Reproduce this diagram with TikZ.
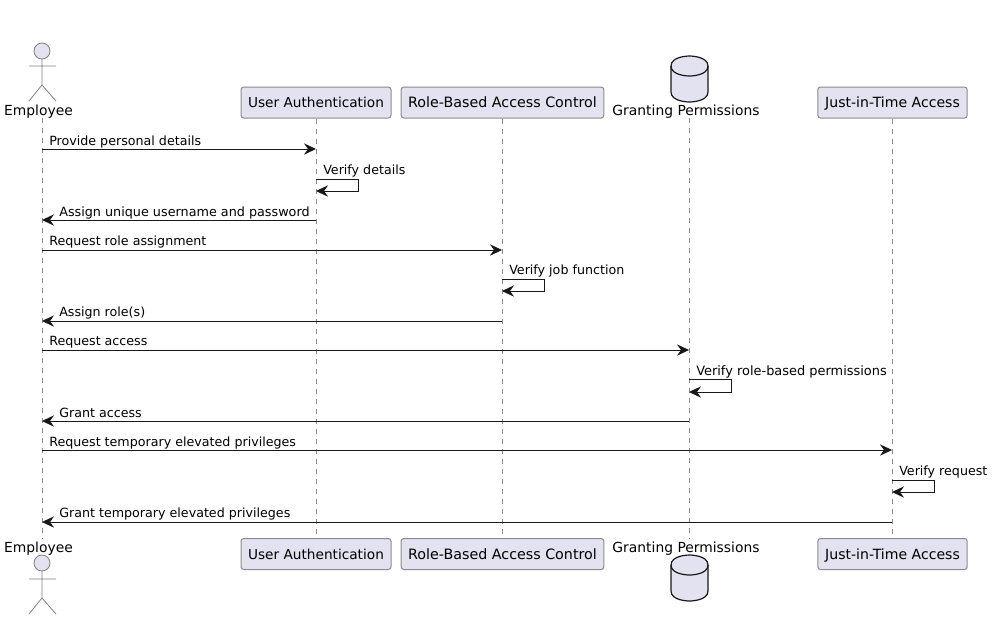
\documentclass[tikz,border=0pt]{standalone}
\usepackage{fontspec}
\setmainfont{DejaVu Sans}
\usetikzlibrary{arrows.meta}

\definecolor{partfill}{HTML}{E2E2F0}
\definecolor{partline}{HTML}{181818}

\tikzset{
  partbox/.style={draw=partline!50!white, line width=0.75pt, fill=partfill, rounded corners=2pt, minimum height=23.25pt, inner sep=0pt, text height=10.3pt, text depth=2.4pt, font=\fontsize{10.25}{12}\selectfont},
  partlabel/.style={inner sep=0pt, text height=10.3pt, text depth=2.4pt, font=\fontsize{10.4}{12}\selectfont},
  lifeline/.style={draw=partline!50!white, line width=0.6pt, dash pattern=on 3.75pt off 3.75pt},
  figure/.style={draw=partline!55!white, line width=0.6pt},
  dbshape/.style={draw=partline, line width=0.9pt},
  msg/.style={draw=partline, line width=0.75pt, -{Stealth[length=9pt,width=8.5pt,inset=3pt]}},
  msgtext/.style={anchor=base west, inner sep=0pt, text=black, font=\fontsize{9.5}{12}\selectfont},
}

\begin{document}
\begin{tikzpicture}[x=0.75pt,y=-0.75pt]

\useasboundingbox (0,0) rectangle (994,619);

% top row
\node[partlabel] (empT) at (38.5,110) {Employee};
\node[partbox, minimum width=112.5pt] (authT) at (316,102.5) {User Authentication};
\node[partbox, minimum width=152pt, font=\fontsize{10.7}{12}\selectfont] (rbacT) at (502.5,102.5) {Role-Based Access Control};
\node[partlabel] (grantT) at (686,110) {Granting Permissions};
\node[partbox, minimum width=112pt, font=\fontsize{10.55}{12}\selectfont] (jitT) at (892.5,102.5) {Just-in-Time Access};

% bottom row
\node[partlabel] (empB) at (38.5,547) {Employee};
\node[partbox, minimum width=112.5pt] (authB) at (316,554) {User Authentication};
\node[partbox, minimum width=152pt, font=\fontsize{10.7}{12}\selectfont] (rbacB) at (502.5,554) {Role-Based Access Control};
\node[partlabel] (grantB) at (686,547) {Granting Permissions};
\node[partbox, minimum width=112pt, font=\fontsize{10.55}{12}\selectfont] (jitB) at (892.5,554) {Just-in-Time Access};

% lifelines
\coordinate (empS) at (42,118);
\coordinate (empE) at (42,539);
\coordinate (grantS) at (689,118);
\coordinate (grantE) at (689,539);
\draw[lifeline] (empS) -- (empE);
\draw[lifeline] (authT) -- (authB);
\draw[lifeline] (rbacT) -- (rbacB);
\draw[lifeline] (grantS) -- (grantE);
\draw[lifeline] (jitT) -- (jitB);

% actor, top and bottom
\draw[figure, fill=partfill] (42,51) circle (8);
\draw[figure] (42,59) -- (42,85) (29,66) -- (56,66) (29,101) -- (42,85) -- (56,101);
\draw[figure, fill=partfill] (42,563) circle (8);
\draw[figure] (42,571) -- (42,598) (29,579) -- (56,579) (29,614) -- (42,598) -- (56,614);

% database, top and bottom
\draw[dbshape, fill=partfill] (671,66) .. controls (671,56) and (689.5,56) .. (689.5,56) .. controls (689.5,56) and (708,56) .. (708,66) -- (708,92) .. controls (708,102) and (689.5,102) .. (689.5,102) .. controls (689.5,102) and (671,102) .. (671,92) -- cycle;
\draw[dbshape] (671,66) .. controls (671,76) and (689.5,76) .. (689.5,76) .. controls (689.5,76) and (708,76) .. (708,66);
\draw[dbshape, fill=partfill] (671,565) .. controls (671,555) and (689.5,555) .. (689.5,555) .. controls (689.5,555) and (708,555) .. (708,565) -- (708,591) .. controls (708,601) and (689.5,601) .. (689.5,601) .. controls (689.5,601) and (671,601) .. (671,591) -- cycle;
\draw[dbshape] (671,565) .. controls (671,575) and (689.5,575) .. (689.5,575) .. controls (689.5,575) and (708,575) .. (708,565);

% messages, first actor pair
\coordinate (e1) at (42,149);
\coordinate (u1) at (316,149);
\draw[msg] (e1) -- (u1);
\node[msgtext] (t1) at (49,145) {Provide personal details};

\coordinate (u2) at (316,179);
\coordinate (u2r) at (358,179);
\coordinate (u2b) at (358,191);
\coordinate (u2e) at (316,191);
\draw[msg] (u2) -- (u2r) -- (u2b) -- (u2e);
\node[msgtext] (t2) at (323,174) {Verify details};

\coordinate (u3) at (316,220);
\coordinate (e3) at (42,220);
\draw[msg] (u3) -- (e3);
\node[msgtext, font=\fontsize{9.58}{12}\selectfont] (t3) at (59,216.5) {Assign unique username and password};

% messages, role control
\coordinate (e4) at (42,250);
\coordinate (r4) at (502,250);
\draw[msg] (e4) -- (r4);
\node[msgtext] (t4) at (49,245) {Request role assignment};

\coordinate (r5) at (502,279);
\coordinate (r5r) at (544,279);
\coordinate (r5b) at (544,291);
\coordinate (r5e) at (502,291);
\draw[msg] (r5) -- (r5r) -- (r5b) -- (r5e);
\node[msgtext] (t5) at (509,274) {Verify job function};

\coordinate (r6) at (502,321);
\coordinate (e6) at (42,321);
\draw[msg] (r6) -- (e6);
\node[msgtext] (t6) at (59,316) {Assign role(s)};

% messages, permissions
\coordinate (e7) at (42,350);
\coordinate (g7) at (689,350);
\draw[msg] (e7) -- (g7);
\node[msgtext] (t7) at (49,345) {Request access};

\coordinate (g8) at (689,379.5);
\coordinate (g8r) at (731,379.5);
\coordinate (g8b) at (731,392);
\coordinate (g8e) at (689,392);
\draw[msg] (g8) -- (g8r) -- (g8b) -- (g8e);
\node[msgtext, font=\fontsize{9.7}{12}\selectfont] (t8) at (696,375) {Verify role-based permissions};

\coordinate (g9) at (689,421);
\coordinate (e9) at (42,421);
\draw[msg] (g9) -- (e9);
\node[msgtext] (t9) at (59,417) {Grant access};

% messages, elevated access
\coordinate (e10) at (42,450);
\coordinate (j10) at (892,450);
\draw[msg] (e10) -- (j10);
\node[msgtext] (t10) at (49,446) {Request temporary elevated privileges};

\coordinate (j11) at (892,480);
\coordinate (j11r) at (934,480);
\coordinate (j11b) at (934,492);
\coordinate (j11e) at (892,492);
\draw[msg] (j11) -- (j11r) -- (j11b) -- (j11e);
\node[msgtext] (t11) at (899,475) {Verify request};

\coordinate (j12) at (892,522);
\coordinate (e12) at (42,522);
\draw[msg] (j12) -- (e12);
\node[msgtext] (t12) at (59,517) {Grant temporary elevated privileges};

\end{tikzpicture}
\end{document}
